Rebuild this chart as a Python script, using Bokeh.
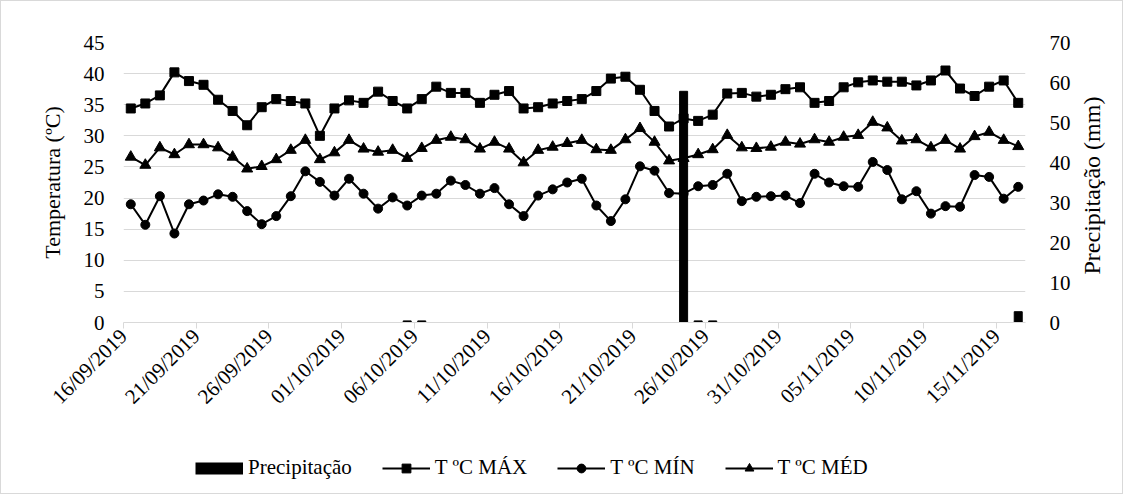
import math
import pandas as pd
from bokeh.plotting import figure
from bokeh.layouts import column
from bokeh.models import (Range1d, LinearAxis, FixedTicker, DatetimeTickFormatter,
                          Legend, LegendItem, ColumnDataSource)
from bokeh.embed import file_html
from bokeh.resources import INLINE

START_DATE = "2019-09-16"
N_DAYS = 62

t_max = [34.4, 35.2, 36.5, 40.2, 38.8, 38.2, 35.8, 34.0, 31.7, 34.6,
         35.9, 35.6, 35.2, 30.0, 34.4, 35.7, 35.3, 37.1, 35.6, 34.4,
         35.9, 37.9, 36.9, 36.9, 35.3, 36.6, 37.2, 34.4, 34.6, 35.2,
         35.6, 35.9, 37.2, 39.2, 39.5, 37.4, 34.0, 31.5, 32.8, 32.4,
         33.4, 36.8, 36.9, 36.3, 36.6, 37.5, 37.8, 35.3, 35.6, 37.8,
         38.6, 38.9, 38.7, 38.7, 38.1, 38.9, 40.5, 37.6, 36.4, 37.9,
         38.9, 35.3]

t_min = [19.0, 15.7, 20.3, 14.3, 19.0, 19.6, 20.6, 20.2, 17.9, 15.8,
         17.1, 20.3, 24.3, 22.6, 20.4, 23.1, 20.7, 18.3, 20.1, 18.8,
         20.4, 20.7, 22.8, 22.1, 20.7, 21.6, 19.0, 17.1, 20.4, 21.4,
         22.5, 23.1, 18.8, 16.3, 19.8, 25.1, 24.4, 20.8, 20.7, 21.9,
         22.1, 23.9, 19.5, 20.2, 20.3, 20.4, 19.2, 23.9, 22.5, 21.9,
         21.8, 25.8, 24.5, 19.8, 21.1, 17.5, 18.7, 18.6, 23.7, 23.4,
         19.9, 21.8]

t_med = [26.6, 25.3, 28.1, 27.0, 28.6, 28.6, 28.1, 26.6, 24.7, 25.1,
         26.2, 27.7, 29.3, 26.2, 27.3, 29.3, 27.9, 27.4, 27.7, 26.4,
         28.0, 29.3, 29.8, 29.4, 27.9, 29.0, 27.9, 25.7, 27.7, 28.2,
         28.8, 29.3, 27.8, 27.7, 29.4, 31.2, 29.0, 26.0, 26.4, 27.0,
         27.8, 30.1, 28.1, 28.0, 28.2, 29.0, 28.7, 29.4, 29.0, 29.8,
         30.1, 32.2, 31.3, 29.2, 29.4, 28.1, 29.3, 27.9, 29.9, 30.6,
         29.3, 28.3]

precip = [0, 0, 0, 0, 0, 0, 0, 0, 0, 0,
          0, 0, 0, 0, 0, 0, 0, 0, 0, 0.4,
          0.4, 0, 0, 0, 0, 0, 0, 0, 0, 0,
          0, 0, 0, 0, 0, 0, 0, 0, 57.8, 0.4,
          0.4, 0, 0, 0, 0, 0, 0, 0, 0, 0,
          0, 0, 0, 0, 0, 0, 0, 0, 0, 0,
          0, 2.7]

temp_ticks = [0, 5, 10, 15, 20, 25, 30, 35, 40, 45]
prec_ticks = [0, 10, 20, 30, 40, 50, 60, 70]

FONT = "Liberation Serif"
FS = "21px"
GRID = "#d9d9d9"
DAY_MS = 86400000

dates = pd.date_range(START_DATE, periods=N_DAYS, freq="D")
x_mid = dates + pd.Timedelta(hours=12)
tick_dates = pd.date_range(START_DATE, periods=13, freq="5D")
tick_ms = [int(d.value // 10**6) for d in tick_dates]
x_start = int(dates[0].value // 10**6)
x_end = x_start + N_DAYS * DAY_MS

src = ColumnDataSource(dict(x=x_mid, tmax=t_max, tmin=t_min, tmed=t_med, prec=precip))

p = figure(width=1121, height=440, output_backend="svg", toolbar_location=None,
           x_axis_type="datetime",
           x_range=Range1d(x_start, x_end), y_range=Range1d(0, 45),
           min_border_left=122, min_border_right=97, min_border_top=41, min_border_bottom=119)
p.outline_line_color = None
p.background_fill_color = "white"
p.border_fill_color = "white"

p.extra_y_ranges = {"prec": Range1d(0, 70)}

p.vbar(x="x", top="prec", bottom=0, width=0.55 * DAY_MS, source=src,
       y_range_name="prec", fill_color="black", line_color="black")

p.line("x", "tmax", source=src, line_color="black", line_width=2)
p.scatter("x", "tmax", source=src, marker="square", size=9, color="black")
p.line("x", "tmin", source=src, line_color="black", line_width=2)
p.scatter("x", "tmin", source=src, marker="circle", size=9, color="black")
p.line("x", "tmed", source=src, line_color="black", line_width=2)
p.scatter("x", "tmed", source=src, marker="triangle", size=11, color="black")

# grid
p.xgrid.grid_line_color = None
p.ygrid.grid_line_color = GRID
p.ygrid.grid_line_width = 1

# x axis
xa = p.xaxis[0]
xa.ticker = FixedTicker(ticks=tick_ms)
fmt = "%d/%m/%Y"
xa.formatter = DatetimeTickFormatter(days=fmt, months=fmt, years=fmt, hours=fmt,
                                     hourmin=fmt, minutes=fmt, minsec=fmt, seconds=fmt,
                                     milliseconds=fmt, microseconds=fmt)
xa.major_label_orientation = math.pi / 4
xa.axis_line_color = GRID
xa.major_tick_line_color = GRID
xa.major_tick_out = 6
xa.major_tick_in = 0
xa.minor_tick_line_color = None
xa.major_label_text_font = FONT
xa.major_label_text_font_size = FS
xa.major_label_text_color = "black"
xa.major_label_standoff = 4

# left axis
ya = p.yaxis[0]
ya.ticker = FixedTicker(ticks=temp_ticks)
ya.axis_line_color = None
ya.major_tick_line_color = None
ya.minor_tick_line_color = None
ya.major_label_text_font = FONT
ya.major_label_text_font_size = FS
ya.major_label_text_color = "black"
ya.major_label_standoff = 13
ya.axis_label = "Temperatura (ºC)"
ya.axis_label_text_font = FONT
ya.axis_label_text_font_size = "22px"
ya.axis_label_text_font_style = "normal"
ya.axis_label_text_color = "black"
ya.axis_label_standoff = 16

# right axis (ticks)
ra = LinearAxis(y_range_name="prec", ticker=FixedTicker(ticks=prec_ticks))
ra.axis_line_color = None
ra.major_tick_line_color = None
ra.minor_tick_line_color = None
ra.major_label_text_font = FONT
ra.major_label_text_font_size = FS
ra.major_label_text_color = "black"
ra.major_label_standoff = 18
p.add_layout(ra, "right")

# right axis title (separate axis so the title can read bottom-to-top)
rt = LinearAxis(y_range_name="prec", ticker=FixedTicker(ticks=[]))
rt.axis_line_color = None
rt.major_tick_line_color = None
rt.minor_tick_line_color = None
rt.major_tick_out = 0
rt.major_label_standoff = 0
rt.axis_label_text_font = FONT
rt.axis_label_text_font_size = "24px"
rt.axis_label_text_font_style = "normal"
rt.axis_label_text_color = "black"
rt.axis_label_standoff = 18
rt.axis_label = "Precipitação (mm)"
props = rt.properties()
if "axis_label_orientation" in props:
    rt.axis_label_orientation = math.pi / 2
    if "axis_label_align" in props:
        rt.axis_label_align = "start"
        rt.axis_label = "\u00a0" * 8 + "Precipitação (mm)"
p.add_layout(rt, "right")

# legend strip below the chart (proxy glyphs sit outside its visible range)
leg = figure(width=1121, height=52, output_backend="svg", toolbar_location=None,
             x_axis_type=None, y_axis_type=None, min_border=0,
             x_range=Range1d(0, 1), y_range=Range1d(0, 1))
leg.outline_line_color = None
leg.xgrid.visible = False
leg.ygrid.visible = False
proxy = ColumnDataSource(dict(x=[-10], y=[-10]))
lg_bar = leg.line("x", "y", source=proxy, line_color="black", line_width=12, line_cap="butt")
lg_l1 = leg.line("x", "y", source=proxy, line_color="black", line_width=2)
lg_s1 = leg.scatter("x", "y", source=proxy, marker="square", size=9, color="black")
lg_l2 = leg.line("x", "y", source=proxy, line_color="black", line_width=2)
lg_s2 = leg.scatter("x", "y", source=proxy, marker="circle", size=9, color="black")
lg_l3 = leg.line("x", "y", source=proxy, line_color="black", line_width=2)
lg_s3 = leg.scatter("x", "y", source=proxy, marker="triangle", size=11, color="black")

legend = Legend(items=[
    LegendItem(label="Precipitação", renderers=[lg_bar]),
    LegendItem(label="T ºC MÁX", renderers=[lg_l1, lg_s1]),
    LegendItem(label="T ºC MÍN", renderers=[lg_l2, lg_s2]),
    LegendItem(label="T ºC MÉD", renderers=[lg_l3, lg_s3]),
], orientation="horizontal", location=(72, 13))
legend.border_line_color = None
legend.background_fill_alpha = 0
legend.label_text_font = FONT
legend.label_text_font_size = FS
legend.label_text_color = "black"
legend.glyph_width = 48
legend.glyph_height = 22
legend.spacing = 30
legend.label_standoff = 5
legend.padding = 0
legend.margin = 0
leg.add_layout(legend)

layout = column(p, leg, spacing=0, styles={"border": "1px solid #d9d9d9"})

open("out.html", "w").write(file_html(layout, INLINE))
